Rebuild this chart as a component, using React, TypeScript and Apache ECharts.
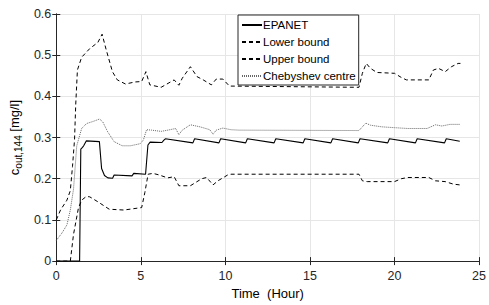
import React, { useEffect, useRef } from "react";
import * as echarts from "echarts";

// ---- Data (hours, mg/l) ----
const epanetT = [0, 1.38, 1.45, 1.55, 1.62, 1.78, 2.55, 2.68, 2.85, 3.05, 3.33, 3.42, 4.48, 4.58, 5.28, 5.42, 5.55, 6.25, 6.35, 6.45, 8.08, 8.18, 9.62, 9.72, 11.2, 11.3, 12.88, 12.98, 14.6, 14.7, 16.24, 16.34, 17.86, 17.96, 19.6, 19.7, 21.24, 21.34, 22.96, 23.06, 23.86];
const epanetC = [0, 0, 0.272, 0.276, 0.28, 0.292, 0.29, 0.225, 0.208, 0.202, 0.201, 0.209, 0.207, 0.213, 0.211, 0.282, 0.289, 0.288, 0.293, 0.297, 0.287, 0.297, 0.287, 0.297, 0.287, 0.297, 0.287, 0.297, 0.287, 0.297, 0.287, 0.297, 0.287, 0.297, 0.287, 0.297, 0.287, 0.297, 0.287, 0.297, 0.291];

const lowerT = [0, 0.83, 1.02, 1.31, 1.5, 1.78, 1.98, 2.46, 3.13, 4.0, 5.05, 5.24, 5.43, 5.72, 6.1, 6.58, 6.97, 7.25, 7.93, 8.6, 8.89, 9.27, 9.56, 10.13, 10.33, 17.9, 18.1, 18.39, 20.0, 20.4, 20.78, 22.03, 22.42, 23.0, 23.47, 23.86];
const lowerC = [0, 0, 0.065, 0.129, 0.148, 0.157, 0.156, 0.144, 0.126, 0.124, 0.13, 0.167, 0.211, 0.213, 0.209, 0.202, 0.205, 0.183, 0.183, 0.2, 0.203, 0.185, 0.195, 0.209, 0.211, 0.211, 0.195, 0.193, 0.193, 0.2, 0.203, 0.203, 0.195, 0.193, 0.187, 0.185];

const upperT = [0, 0.25, 0.63, 0.83, 0.96, 1.08, 1.15, 1.25, 1.5, 1.98, 2.46, 2.71, 2.94, 3.32, 3.61, 4.09, 4.66, 5.05, 5.3, 5.53, 6.2, 6.97, 7.25, 7.45, 7.93, 8.32, 8.69, 9.17, 9.46, 9.85, 10.24, 17.9, 18.1, 18.33, 18.58, 18.96, 20.0, 20.4, 20.7, 22.03, 22.3, 22.6, 23.0, 23.37, 23.76, 23.9];
const upperC = [0.1, 0.124, 0.148, 0.171, 0.23, 0.295, 0.38, 0.464, 0.495, 0.516, 0.531, 0.551, 0.515, 0.46, 0.44, 0.43, 0.435, 0.436, 0.46, 0.428, 0.422, 0.44, 0.427, 0.444, 0.472, 0.448, 0.44, 0.428, 0.442, 0.442, 0.425, 0.422, 0.456, 0.48, 0.468, 0.458, 0.456, 0.446, 0.44, 0.44, 0.464, 0.468, 0.46, 0.472, 0.48, 0.48];

const chebT = [0, 0.35, 0.63, 0.83, 1.02, 1.21, 1.5, 1.79, 2.17, 2.56, 2.75, 3.04, 3.42, 3.9, 4.38, 4.96, 5.15, 5.34, 5.63, 6.2, 6.6, 7.06, 7.25, 7.45, 7.93, 8.5, 9.08, 9.27, 9.46, 9.85, 10.33, 10.8, 17.9, 18.3, 18.58, 19.25, 20.0, 20.78, 21.93, 22.42, 22.8, 23.28, 23.86];
const chebC = [0.05, 0.069, 0.088, 0.124, 0.175, 0.28, 0.322, 0.334, 0.339, 0.345, 0.338, 0.314, 0.29, 0.28, 0.28, 0.285, 0.294, 0.319, 0.318, 0.315, 0.318, 0.322, 0.307, 0.318, 0.331, 0.326, 0.319, 0.308, 0.318, 0.323, 0.319, 0.318, 0.317, 0.335, 0.33, 0.326, 0.324, 0.322, 0.322, 0.331, 0.328, 0.332, 0.332];

const seriesNames = ["EPANET", "Lower bound", "Upper bound", "Chebyshev centre"];
const xTicks = { min: 0, max: 25, interval: 5 };
const yTicks = { min: 0, max: 0.6, interval: 0.1 };
const xAxisTitle = "Time  (Hour)";

const pairs = (t: number[], c: number[]) => t.map((v, i) => [v, c[i]]);

const FONT = "'Liberation Sans', Arial, Helvetica, sans-serif";
const AX = "#262626";
const GRID = "#e6e6e6";

export default function App() {
  const ref = useRef<HTMLDivElement>(null);
  useEffect(() => {
    if (!ref.current) return;
    const chart = echarts.init(ref.current, undefined, { renderer: "svg" });
    const hiddenAxisCommon = {
      type: "value" as const,
      axisLabel: { show: false },
      axisLine: { show: true, lineStyle: { color: AX, width: 1 } },
      axisTick: { show: true, inside: true, length: 4, lineStyle: { color: AX } },
      splitLine: { show: false },
    };
    chart.setOption({
      animation: false,
      backgroundColor: "#ffffff",
      grid: { left: 52, right: 3, top: 14, bottom: 38, containLabel: false },
      legend: {
        orient: "vertical",
        left: 238,
        top: 15,
        data: seriesNames,
        itemWidth: 20,
        itemHeight: 10,
        itemGap: 5,
        padding: [4, 3, 3, 3],
        borderColor: AX,
        borderWidth: 1,
        backgroundColor: "#ffffff",
        itemStyle: { opacity: 0 },
        textStyle: { fontFamily: FONT, fontSize: 11.5, color: "#000", padding: [0, 0, 0, -4] },
      },
      xAxis: [
        {
          type: "value",
          min: xTicks.min,
          max: xTicks.max,
          interval: xTicks.interval,
          name: xAxisTitle,
          nameLocation: "middle",
          nameGap: 20,
          nameTextStyle: { fontFamily: FONT, fontSize: 13, color: "#000" },
          axisLine: { show: true, onZero: false, lineStyle: { color: AX, width: 1 } },
          axisTick: { show: true, inside: true, length: 4, lineStyle: { color: AX } },
          axisLabel: { fontFamily: FONT, fontSize: 12.5, color: AX, margin: 8 },
          splitLine: { show: true, lineStyle: { color: GRID, width: 1 } },
        },
        { ...hiddenAxisCommon, position: "top", min: xTicks.min, max: xTicks.max, interval: xTicks.interval },
      ],
      yAxis: [
        {
          type: "value",
          min: yTicks.min,
          max: yTicks.max,
          interval: yTicks.interval,
          name: "{m|c}{s|out,144}{m| [mg/l]}",
          nameLocation: "middle",
          nameRotate: 90,
          nameGap: 28,
          nameTextStyle: {
            fontFamily: FONT,
            fontSize: 13,
            color: "#000",
            rich: {
              m: { fontFamily: FONT, fontSize: 13, color: "#000", lineHeight: 16, verticalAlign: "top" },
              s: { fontFamily: FONT, fontSize: 10, color: "#000", lineHeight: 16, verticalAlign: "top", padding: [5, 0, 0, 0] },
            },
          },
          axisLine: { show: true, onZero: false, lineStyle: { color: AX, width: 1 } },
          axisTick: { show: true, inside: true, length: 4, lineStyle: { color: AX } },
          axisLabel: { fontFamily: FONT, fontSize: 12.5, color: AX, margin: 5 },
          splitLine: { show: true, lineStyle: { color: GRID, width: 1 } },
        },
        { ...hiddenAxisCommon, position: "right", min: yTicks.min, max: yTicks.max, interval: yTicks.interval },
      ],
      series: [
        {
          name: seriesNames[0],
          type: "line",
          data: pairs(epanetT, epanetC),
          symbol: "none",
          lineStyle: { color: "#000", width: 1.1, type: "solid" },
          itemStyle: { color: "#000" },
          z: 4,
        },
        {
          name: seriesNames[1],
          type: "line",
          data: pairs(lowerT, lowerC),
          symbol: "none",
          lineStyle: { color: "#000", width: 1, type: [4, 3] },
          itemStyle: { color: "#000" },
          z: 3,
        },
        {
          name: seriesNames[2],
          type: "line",
          data: pairs(upperT, upperC),
          symbol: "none",
          lineStyle: { color: "#000", width: 1, type: [4, 3] },
          itemStyle: { color: "#000" },
          z: 3,
        },
        {
          name: seriesNames[3],
          type: "line",
          data: pairs(chebT, chebC),
          symbol: "none",
          lineStyle: { color: "#666", width: 1, type: [1, 1] },
          itemStyle: { color: "#666" },
          z: 2,
        },
      ],
    });
    return () => chart.dispose();
  }, []);
  return (
    <div
      ref={ref}
      style={{ position: "absolute", left: 0, top: 0, width: 489, height: 305, background: "#fff" }}
    />
  );
}
